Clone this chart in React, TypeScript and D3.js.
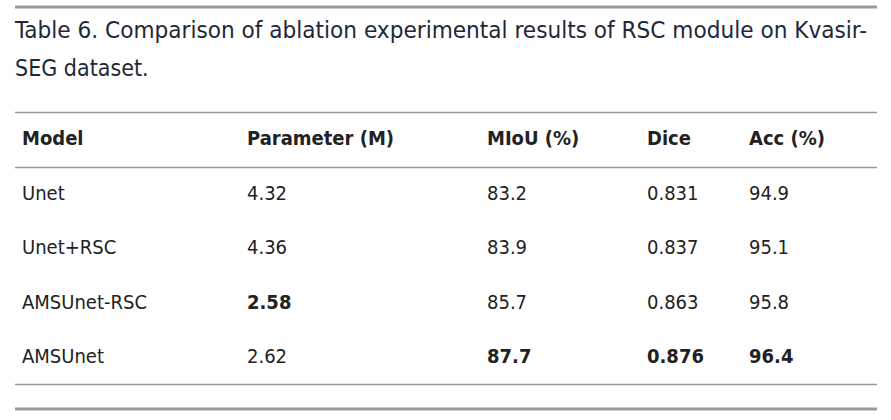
import React from "react";
import * as d3 from "d3";

const titleLines = ["Table 6. Comparison of ablation experimental results of RSC module on Kvasir-", "SEG dataset."];
const headers = ["Model", "Parameter (M)", "MIoU (%)", "Dice", "Acc (%)"];
const models = ["Unet", "Unet+RSC", "AMSUnet-RSC", "AMSUnet"];
const params = ["4.32", "4.36", "2.58", "2.62"];
const miou = ["83.2", "83.9", "85.7", "87.7"];
const dice = ["0.831", "0.837", "0.863", "0.876"];
const acc = ["94.9", "95.1", "95.8", "96.4"];
const bold = [[false, false, false, false, false], [false, false, false, false, false], [false, true, false, false, false], [false, false, true, true, true]];

export default function App() {
  const W = 891, H = 420;
  const colX = d3.scalePoint<number>().domain(d3.range(5)).range([0, 1]);
  const xs = [22, 247, 487, 647, 749];
  const rowY = d3.scaleLinear().domain([0, 3]).range([200, 363]);
  const rows = models.map((m, i) => [m, params[i], miou[i], dice[i], acc[i]]);
  const font = "'Liberation Sans Narrow', 'DejaVu Sans Condensed', 'Open Sans', sans-serif";
  void colX;
  return (
    <svg width={W} height={H} style={{ position: "absolute", left: 0, top: 0, background: "#fff" }}>
      <line x1={15} x2={877} y1={7} y2={7} stroke="#999" strokeWidth={3} />
      {titleLines.map((t, i) => (
        <text key={i} x={15} y={38 + i * 38} fontSize={23} fill="#1e2838" fontFamily={font} textLength={i === 0 ? 852 : undefined} lengthAdjust="spacingAndGlyphs">{t}</text>
      ))}
      <line x1={15} x2={877} y1={112.5} y2={112.5} stroke="#999" strokeWidth={1.5} />
      {headers.map((h, j) => (
        <text key={h} x={xs[j]} y={145} fontSize={20} fontWeight="bold" fill="#222" fontFamily={font}>{h}</text>
      ))}
      <line x1={15} x2={877} y1={167.5} y2={167.5} stroke="#999" strokeWidth={1.5} />
      {rows.map((r, i) => r.map((c, j) => (
        <text key={i + "-" + j} x={xs[j]} y={rowY(i)} fontSize={20} fontWeight={bold[i][j] ? "bold" : "normal"} fill="#222" fontFamily={font}>{c}</text>
      )))}
      <line x1={15} x2={877} y1={384.5} y2={384.5} stroke="#999" strokeWidth={1.5} />
      <line x1={15} x2={877} y1={409} y2={409} stroke="#999" strokeWidth={3} />
    </svg>
  );
}
